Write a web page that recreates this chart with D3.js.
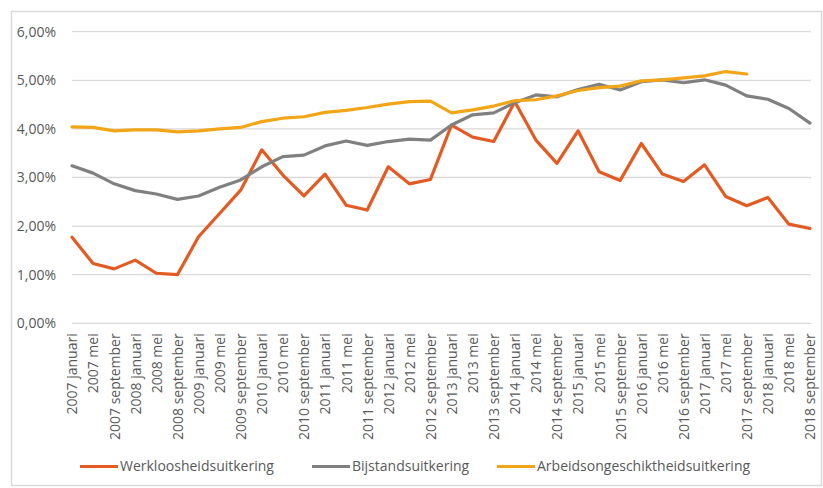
<!DOCTYPE html>
<html>
<head>
<meta charset="utf-8">
<script src="https://cdn.jsdelivr.net/npm/d3@7"></script>
<style>
  body { margin: 0; background: #fff; }
  svg text { font-family: "Open Sans", "Liberation Sans", sans-serif; fill: #595959; }
</style>
</head>
<body>
<svg id="chart" width="823" height="488"></svg>
<script>
// categories: every 4 months, 2007 januari .. 2018 september
const years = d3.range(2007, 2019);
const months = ['januari', 'mei', 'september'];
const categories = years.flatMap(y => months.map(m => y + ' ' + m));

const werkloosheid = [1.77, 1.23, 1.12, 1.30, 1.03, 1.00, 1.78, 2.26, 2.74, 3.57,
  3.05, 2.62, 3.07, 2.43, 2.33, 3.22, 2.87, 2.96, 4.08, 3.83,
  3.74, 4.56, 3.77, 3.29, 3.96, 3.12, 2.94, 3.70, 3.07, 2.92,
  3.26, 2.61, 2.42, 2.59, 2.04, 1.95];
const bijstand = [3.24, 3.09, 2.87, 2.73, 2.66, 2.55, 2.62, 2.80, 2.95, 3.22,
  3.43, 3.46, 3.65, 3.75, 3.66, 3.74, 3.79, 3.77, 4.08, 4.29,
  4.33, 4.54, 4.70, 4.66, 4.81, 4.92, 4.80, 4.97, 5.01, 4.95,
  5.01, 4.90, 4.68, 4.61, 4.42, 4.12];
// no value after 2017 september
const arbeidsongeschikt = [4.04, 4.03, 3.96, 3.98, 3.98, 3.94, 3.96, 4.00, 4.03, 4.15,
  4.22, 4.25, 4.34, 4.38, 4.44, 4.51, 4.56, 4.57, 4.33, 4.39,
  4.47, 4.58, 4.60, 4.68, 4.79, 4.85, 4.88, 4.99, 5.01, 5.05,
  5.09, 5.18, 5.13, null, null, null];

const yTicks = [0, 1, 2, 3, 4, 5, 6];

const series = [
  {name: 'Werkloosheidsuitkering', values: werkloosheid, color: '#E35A22'},
  {name: 'Bijstandsuitkering', values: bijstand, color: '#808080'},
  {name: 'Arbeidsongeschiktheidsuitkering', values: arbeidsongeschikt, color: '#F2A516'}
];

const svg = d3.select('#chart');

// outer frame
svg.append('rect')
  .attr('x', 11.5).attr('y', 11.5)
  .attr('width', 810).attr('height', 474)
  .attr('fill', 'none')
  .attr('stroke', '#d9d9d9')
  .attr('stroke-width', 1.5);

const x = d3.scalePoint()
  .domain(categories)
  .range([72, 810]);

const y = d3.scaleLinear()
  .domain([0, 6])
  .range([323.3, 31.7]);

// gridlines
svg.append('g')
  .selectAll('line')
  .data(yTicks)
  .join('line')
    .attr('x1', 72).attr('x2', 811)
    .attr('y1', d => y(d)).attr('y2', d => y(d))
    .attr('stroke', '#d9d9d9')
    .attr('stroke-width', 1.3);

// y axis labels
const yAxis = svg.append('g')
  .attr('transform', 'translate(56,0)')
  .call(d3.axisLeft(y).tickValues(yTicks).tickSize(0).tickPadding(0)
    .tickFormat(d => d3.format('.2f')(d).replace('.', ',') + '%'));
yAxis.select('.domain').remove();
yAxis.selectAll('text')
  .style('font-size', '14px')
  .attr('fill', '#595959');

// x axis labels, rotated
const xAxis = svg.append('g')
  .attr('transform', 'translate(0,323.3)')
  .call(d3.axisBottom(x).tickSize(0).tickPadding(0));
xAxis.select('.domain').remove();
xAxis.selectAll('text')
  .style('font-size', '14px')
  .attr('fill', '#595959')
  .attr('text-anchor', 'end')
  .attr('transform', 'rotate(-90)')
  .attr('x', -10)
  .attr('y', 0)
  .attr('dy', '0.35em');

// lines
const line = d3.line()
  .defined(d => d.v != null)
  .x(d => x(d.c))
  .y(d => y(d.v));

svg.append('g')
  .selectAll('path')
  .data(series)
  .join('path')
    .attr('fill', 'none')
    .attr('stroke', d => d.color)
    .attr('stroke-width', 3.2)
    .attr('stroke-linejoin', 'round')
    .attr('stroke-linecap', 'round')
    .attr('d', s => line(s.values.map((v, i) => ({c: categories[i], v: v}))));

// legend
const legendX = [80, 312, 497];
const legend = svg.append('g')
  .selectAll('g')
  .data(series)
  .join('g')
    .attr('transform', (d, i) => `translate(${legendX[i]},466.5)`);
legend.append('line')
  .attr('x1', 0).attr('x2', 38)
  .attr('stroke', d => d.color)
  .attr('stroke-width', 3.2);
legend.append('text')
  .attr('x', 40)
  .attr('dy', '0.35em')
  .style('font-size', '14px')
  .text(d => d.name);
</script>
</body>
</html>
